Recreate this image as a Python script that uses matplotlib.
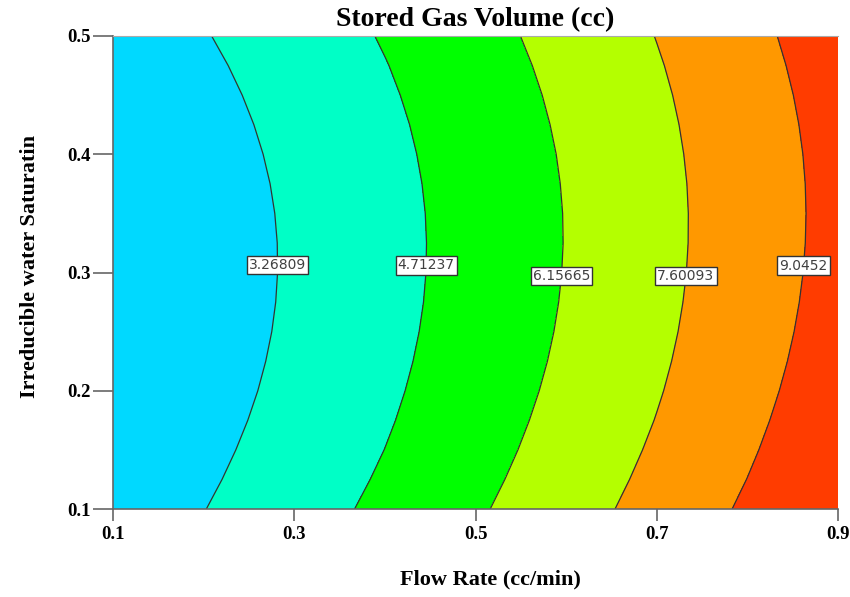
import numpy as np
import matplotlib
matplotlib.use('Agg')
import matplotlib.pyplot as plt

# Flow rate (cc/min) grid columns and irreducible water saturation grid rows
flow_rate = [0.1, 0.2, 0.3, 0.4, 0.5, 0.6, 0.7, 0.8, 0.9]
saturation = [0.1, 0.125, 0.15, 0.175, 0.2, 0.225, 0.25, 0.275, 0.3,
              0.325, 0.35, 0.375, 0.4, 0.425, 0.45, 0.475, 0.5]
# Stored gas volume (cc), one row per saturation value
stored_gas = [
    [2.438, 3.243, 4.104, 5.019, 5.991, 7.018, 8.100, 9.238, 10.431],
    [2.296, 3.095, 3.950, 4.861, 5.827, 6.848, 7.925, 9.058, 10.246],
    [2.172, 2.967, 3.816, 4.721, 5.682, 6.698, 7.770, 8.897, 10.080],
    [2.069, 2.857, 3.702, 4.601, 5.557, 6.568, 7.634, 8.756, 9.933],
    [1.984, 2.767, 3.606, 4.501, 5.451, 6.456, 7.517, 8.634, 9.806],
    [1.919, 2.697, 3.531, 4.420, 5.364, 6.364, 7.420, 8.531, 9.698],
    [1.873, 2.646, 3.474, 4.358, 5.297, 6.292, 7.342, 8.448, 9.609],
    [1.847, 2.614, 3.437, 4.315, 5.249, 6.239, 7.284, 8.384, 9.540],
    [1.840, 2.602, 3.419, 4.292, 5.221, 6.205, 7.244, 8.339, 9.490],
    [1.852, 2.609, 3.421, 4.289, 5.212, 6.190, 7.225, 8.314, 9.460],
    [1.884, 2.635, 3.442, 4.304, 5.222, 6.195, 7.224, 8.309, 9.448],
    [1.935, 2.681, 3.482, 4.339, 5.252, 6.220, 7.243, 8.322, 9.457],
    [2.005, 2.746, 3.542, 4.394, 5.301, 6.263, 7.282, 8.355, 9.484],
    [2.095, 2.830, 3.621, 4.467, 5.369, 6.327, 7.339, 8.408, 9.531],
    [2.204, 2.934, 3.720, 4.561, 5.457, 6.409, 7.416, 8.479, 9.598],
    [2.333, 3.057, 3.838, 4.673, 5.564, 6.511, 7.513, 8.571, 9.684],
    [2.481, 3.200, 3.975, 4.805, 5.691, 6.632, 7.629, 8.681, 9.789],
]
contour_levels = [3.26809, 4.71237, 6.15665, 7.60093, 9.0452]
label_spots = [(0.281, 0.306), (0.444, 0.306), (0.591, 0.297), (0.7295, 0.297), (0.860, 0.306)]
x_ticks = [0.1, 0.3, 0.5, 0.7, 0.9]
y_ticks = [0.1, 0.2, 0.3, 0.4, 0.5]

fill_colors = ['#00D9FF', '#00FFC6', '#00FF00', '#B4FF00', '#FF9800', '#FF3C00']

X, Y = np.meshgrid(flow_rate, saturation)
Z = np.array(stored_gas)

plt.rcParams['font.family'] = ['Liberation Serif', 'DejaVu Serif']
fig = plt.figure(figsize=(8.5, 5.97), dpi=100)
ax = fig.add_axes([0.133, 0.1474, 0.853, 0.7923])
edges = [np.floor(Z.min()) - 1] + contour_levels + [np.ceil(Z.max()) + 1]
ax.contourf(X, Y, Z, levels=edges, colors=fill_colors)
cs = ax.contour(X, Y, Z, levels=contour_levels, colors='#333333', linewidths=0.9)
labs = ax.clabel(cs, fmt='%g', inline=False, fontsize=10, manual=label_spots)
for t in labs:
    t.set_rotation(0)
    t.set_family(['DejaVu Sans'])
    t.set_color('#404040')
    t.set_zorder(5)
    t.set_bbox(dict(facecolor='white', edgecolor='#333333', linewidth=1.0, pad=1.5))

ax.set_xlim(0.1, 0.9)
ax.set_ylim(0.1, 0.5)
ax.set_xticks(x_ticks)
ax.set_yticks(y_ticks)
ax.tick_params(axis='both', direction='out', width=1.2, color='#666666', labelsize=13.5)
ax.tick_params(axis='x', length=8.6, pad=3.6)
ax.tick_params(axis='y', length=14.4, pad=1.5)
for lab in ax.get_xticklabels() + ax.get_yticklabels():
    lab.set_fontweight('bold')
ax.spines['right'].set_visible(False)
ax.spines['top'].set_color('#aaaaaa')
ax.spines['top'].set_linewidth(0.8)
for s in ['left', 'bottom']:
    ax.spines[s].set_color('#666666')
    ax.spines[s].set_linewidth(1.2)
ax.set_title('Stored Gas Volume (cc)', fontsize=20, fontweight='bold', pad=7)
ax.set_xlabel('Flow Rate (cc/min)', fontsize=16, fontweight='bold', labelpad=19, x=0.52)
ax.set_ylabel('Irreducible water Saturatin', fontsize=16, fontweight='bold', labelpad=20, y=0.512)
fig.savefig('out.png', dpi=100)
